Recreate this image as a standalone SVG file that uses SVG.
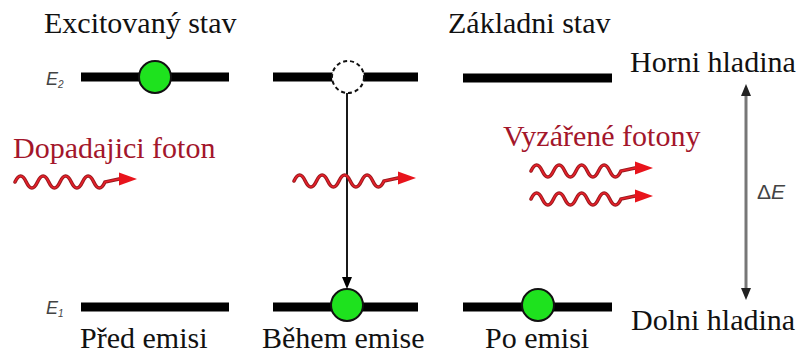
<svg xmlns="http://www.w3.org/2000/svg" width="801" height="356" viewBox="0 0 801 356">
  <defs>
    <!-- one photon: wavy line with an arrowhead, origin at the wave start -->
    <g id="photon">
      <path fill="none" stroke="#9A1A1E" stroke-width="3.6" stroke-linecap="round" d="M0,0 c3.75,-8 7.5,-8 11.25,0 s7.5,8 11.25,0 s7.5,-8 11.25,0 s7.5,8 11.25,0 s7.5,-8 11.25,0 s7.5,8 11.25,0 s7.5,-8 11.25,0 s7.5,8 11.25,0 l14,-3"/>
      <path fill="none" stroke="#E8202A" stroke-width="1.6" stroke-linecap="round" d="M0,0 c3.75,-8 7.5,-8 11.25,0 s7.5,8 11.25,0 s7.5,-8 11.25,0 s7.5,8 11.25,0 s7.5,-8 11.25,0 s7.5,8 11.25,0 s7.5,-8 11.25,0 s7.5,8 11.25,0 l14,-3"/>
      <polygon fill="#E8141C" points="104,-9.5 122,-3 104,3.5"/>
    </g>
    <!-- electron in a level -->
    <circle id="electron" r="16" fill="#1EE21E" stroke="#111" stroke-width="2"/>
  </defs>

  <!-- headings and level names -->
  <text x="44" y="33" style="font-family: 'Liberation Serif', serif; font-size: 30px" fill="#111">Excitovaný stav</text>
  <text x="448" y="33" style="font-family: 'Liberation Serif', serif; font-size: 30px" fill="#111">Základni stav</text>
  <text x="630" y="72" style="font-family: 'Liberation Serif', serif; font-size: 30px" fill="#111">Horni hladina</text>
  <text x="631" y="330" style="font-family: 'Liberation Serif', serif; font-size: 30px" fill="#111">Dolni hladina</text>

  <!-- energy labels -->
  <text x="46" y="85" style="font-family: 'Liberation Sans', sans-serif; font-style: italic; font-size: 18px" fill="#444">E<tspan style="font-size: 10px" dy="3">2</tspan></text>
  <text x="46" y="314" style="font-family: 'Liberation Sans', sans-serif; font-style: italic; font-size: 18px" fill="#444">E<tspan style="font-size: 10px" dy="3">1</tspan></text>

  <!-- before emission -->
  <g id="pred-emisi">
    <path d="M81,77 H229 M81,307 H229" stroke="#000" stroke-width="9" fill="none"/>
    <use href="#electron" transform="translate(155,77)"/>
    <text x="80" y="348" style="font-family: 'Liberation Serif', serif; font-size: 30px" fill="#111">Před emisi</text>
  </g>

  <!-- during emission -->
  <g id="behem-emise">
    <path d="M273,77 H418 M273,307 H418" stroke="#000" stroke-width="9" fill="none"/>
    <path d="M364,77 A16,16 0 1 1 332,77 A16,16 0 1 1 364,77 z" fill="#fff" stroke="#111" stroke-width="2" stroke-dasharray="4 3"/>
    <use href="#electron" transform="translate(347,305)"/>
    <text x="262" y="348" style="font-family: 'Liberation Serif', serif; font-size: 30px" fill="#111">Během emise</text>
  </g>

  <!-- after emission -->
  <g id="po-emisi">
    <path d="M463,78 H612 M463,307 H612" stroke="#000" stroke-width="9" fill="none"/>
    <use href="#electron" transform="translate(538,305)"/>
    <text x="485" y="348" style="font-family: 'Liberation Serif', serif; font-size: 30px" fill="#111">Po emisi</text>
  </g>

  <!-- photons -->
  <g id="dopadajici-foton">
    <text x="13" y="158" style="font-family: 'Liberation Serif', serif; font-size: 30px" fill="#A3162B">Dopadajici foton</text>
    <use href="#photon" transform="translate(15,182)"/>
  </g>
  <g id="vyzarene-fotony">
    <text x="503" y="146" style="font-family: 'Liberation Serif', serif; font-size: 30px" fill="#A3162B">Vyzářené fotony</text>
    <use href="#photon" transform="translate(531,171)"/>
    <use href="#photon" transform="translate(531,199)"/>
  </g>

  <!-- connectors: electron drop and energy gap -->
  <g id="connectors">
    <path d="M347,93 V280" stroke="#000" stroke-width="1.8" fill="none"/>
    <polygon points="342,277 352,277 347,289" fill="#000"/>
    <use href="#photon" transform="translate(294,181)"/>
    <path d="M746,94 V290" stroke="#777" stroke-width="3" fill="none"/>
    <polygon points="741,96 751,96 746,84" fill="#222"/>
    <polygon points="741,288 751,288 746,300" fill="#222"/>
    <text x="757" y="199" style="font-family: 'Liberation Sans', sans-serif; font-size: 21px" fill="#444">Δ<tspan style="font-style: italic">E</tspan></text>
  </g>
</svg>
